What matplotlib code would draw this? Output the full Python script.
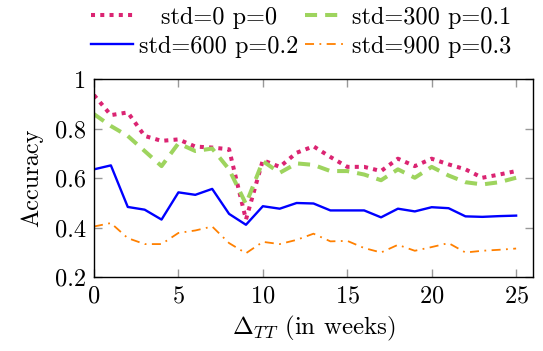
import numpy as np
import matplotlib
matplotlib.use('Agg')
from matplotlib import pyplot as plt
from matplotlib.lines import Line2D
from matplotlib.ticker import FuncFormatter

plt.rcParams['font.family'] = 'cmr10'
plt.rcParams['mathtext.fontset'] = 'cm'
plt.rcParams['axes.formatter.use_mathtext'] = True

weeks = list(range(26))

# std=0 p=0
acc_std0 = [0.935, 0.854, 0.865, 0.770, 0.750, 0.756, 0.727, 0.723, 0.716, 0.432,
            0.672, 0.645, 0.702, 0.728, 0.685, 0.645, 0.645, 0.628, 0.678, 0.648,
            0.678, 0.655, 0.635, 0.601, 0.614, 0.628]
# std=300 p=0.1
acc_std300 = [0.858, 0.810, 0.770, 0.709, 0.648, 0.740, 0.709, 0.719, 0.635, 0.495,
              0.668, 0.621, 0.659, 0.653, 0.628, 0.628, 0.614, 0.591, 0.635, 0.601,
              0.645, 0.610, 0.583, 0.574, 0.583, 0.601]
# std=600 p=0.2
acc_std600 = [0.635, 0.651, 0.483, 0.472, 0.432, 0.542, 0.532, 0.556, 0.455, 0.411,
              0.486, 0.476, 0.499, 0.497, 0.469, 0.469, 0.469, 0.441, 0.476, 0.465,
              0.482, 0.478, 0.445, 0.443, 0.446, 0.448]
# std=900 p=0.3
acc_std900 = [0.404, 0.418, 0.357, 0.333, 0.333, 0.378, 0.388, 0.404, 0.337, 0.296,
              0.342, 0.333, 0.350, 0.375, 0.344, 0.346, 0.317, 0.299, 0.330, 0.306,
              0.321, 0.337, 0.299, 0.306, 0.310, 0.315]

labels = ['std=0 p=0', 'std=300 p=0.1', 'std=600 p=0.2', 'std=900 p=0.3']
styles = [dict(color='#DB2472', lw=2.9, linestyle=(0, (1, 1.3))),
          dict(color='#9ED45E', lw=2.9, linestyle=(0, (3, 2))),
          dict(color='#0000FF', lw=1.7, linestyle='-'),
          dict(color='#FF8000', lw=1.3, linestyle=(0, (5, 3, 1, 3)))]

FS = 17.5
W, H = 543, 351
fig = plt.figure(figsize=(W/100, H/100), dpi=100)
ax = fig.add_axes([94/W, 1 - 277/H, (533-94)/W, (277-79)/H])

for ys, lab, st in zip([acc_std0, acc_std300, acc_std600, acc_std900], labels, styles):
    ax.plot(weeks, ys, label=lab, **st)

ax.set_xlim(0, 26)
ax.set_ylim(0.2, 1.0)
ax.set_xticks([0, 5, 10, 15, 20, 25])
ax.set_yticks([0.2, 0.4, 0.6, 0.8, 1.0])
ax.yaxis.set_major_formatter(FuncFormatter(lambda v, p: '1' if v == 1 else '%.1f' % v))
ax.tick_params(direction='in', length=6, width=1, color='#999999',
               top=True, right=True, labelsize=FS, pad=6)
for s in ax.spines.values():
    s.set_linewidth(1)

ax.set_xlabel(r'$\Delta_{TT}$ (in weeks)', fontsize=18, labelpad=5)
ax.set_ylabel('Accuracy', fontsize=FS, labelpad=8)

# legend, two rows of two entries, text centred in its cell (pgfplots style)
cells = [(91, 133, 219, 15), (305, 344, 432, 15),
         (91, 133, 219, 44), (305, 344, 432, 44)]
for (x0, x1, xc, yc), lab, st in zip(cells, labels, styles):
    fig.add_artist(Line2D([x0/W, x1/W], [1 - yc/H, 1 - yc/H],
                          transform=fig.transFigure, **st))
    fig.text(xc/W, 1 - yc/H, lab, ha='center', va='center_baseline', fontsize=FS)

fig.savefig('out.png', dpi=100)
